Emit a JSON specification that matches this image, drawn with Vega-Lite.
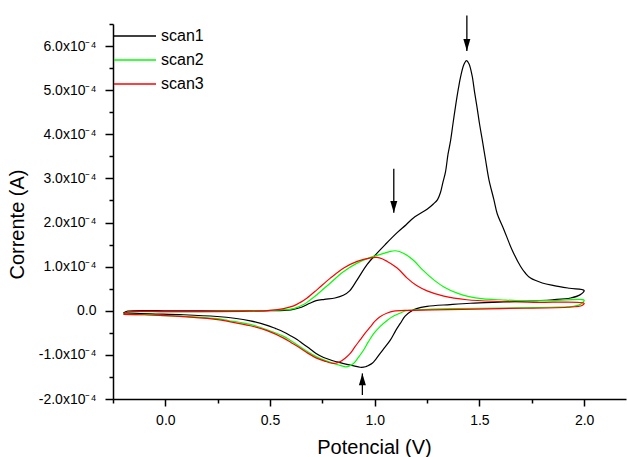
{
  "$schema": "https://vega.github.io/schema/vega-lite/v6.json",
  "autosize": "none",
  "width": 513,
  "height": 375,
  "padding": {"left": 113, "top": 24, "right": 1, "bottom": 58},
  "background": "white",
  "config": {"font": "Liberation Sans", "view": {"stroke": null}, "axis": {"grid": false}},
  "datasets": {
    "cv": [
      {"scan": "scan1", "potencial": -0.2, "corrente": -0.05e-4},
      {"scan": "scan1", "potencial": -0.18, "corrente": -0.01e-4},
      {"scan": "scan1", "potencial": 0.0, "corrente": 0.0},
      {"scan": "scan1", "potencial": 0.2, "corrente": 0.0},
      {"scan": "scan1", "potencial": 0.4, "corrente": 0.0},
      {"scan": "scan1", "potencial": 0.5, "corrente": 0.0},
      {"scan": "scan1", "potencial": 0.6, "corrente": 0.02e-4},
      {"scan": "scan1", "potencial": 0.65, "corrente": 0.08e-4},
      {"scan": "scan1", "potencial": 0.69, "corrente": 0.17e-4},
      {"scan": "scan1", "potencial": 0.72, "corrente": 0.23e-4},
      {"scan": "scan1", "potencial": 0.76, "corrente": 0.26e-4},
      {"scan": "scan1", "potencial": 0.81, "corrente": 0.29e-4},
      {"scan": "scan1", "potencial": 0.85, "corrente": 0.35e-4},
      {"scan": "scan1", "potencial": 0.88, "corrente": 0.45e-4},
      {"scan": "scan1", "potencial": 0.916, "corrente": 0.7e-4},
      {"scan": "scan1", "potencial": 0.964, "corrente": 1.05e-4},
      {"scan": "scan1", "potencial": 1.01, "corrente": 1.3e-4},
      {"scan": "scan1", "potencial": 1.05, "corrente": 1.5e-4},
      {"scan": "scan1", "potencial": 1.107, "corrente": 1.77e-4},
      {"scan": "scan1", "potencial": 1.15, "corrente": 1.95e-4},
      {"scan": "scan1", "potencial": 1.186, "corrente": 2.11e-4},
      {"scan": "scan1", "potencial": 1.25, "corrente": 2.3e-4},
      {"scan": "scan1", "potencial": 1.28, "corrente": 2.42e-4},
      {"scan": "scan1", "potencial": 1.3, "corrente": 2.52e-4},
      {"scan": "scan1", "potencial": 1.314, "corrente": 2.68e-4},
      {"scan": "scan1", "potencial": 1.325, "corrente": 2.9e-4},
      {"scan": "scan1", "potencial": 1.338, "corrente": 3.15e-4},
      {"scan": "scan1", "potencial": 1.35, "corrente": 3.55e-4},
      {"scan": "scan1", "potencial": 1.362, "corrente": 3.85e-4},
      {"scan": "scan1", "potencial": 1.374, "corrente": 4.25e-4},
      {"scan": "scan1", "potencial": 1.386, "corrente": 4.64e-4},
      {"scan": "scan1", "potencial": 1.4, "corrente": 5.05e-4},
      {"scan": "scan1", "potencial": 1.41, "corrente": 5.3e-4},
      {"scan": "scan1", "potencial": 1.425, "corrente": 5.57e-4},
      {"scan": "scan1", "potencial": 1.438, "corrente": 5.67e-4},
      {"scan": "scan1", "potencial": 1.45, "corrente": 5.6e-4},
      {"scan": "scan1", "potencial": 1.465, "corrente": 5.33e-4},
      {"scan": "scan1", "potencial": 1.477, "corrente": 4.95e-4},
      {"scan": "scan1", "potencial": 1.489, "corrente": 4.6e-4},
      {"scan": "scan1", "potencial": 1.5, "corrente": 4.25e-4},
      {"scan": "scan1", "potencial": 1.513, "corrente": 3.89e-4},
      {"scan": "scan1", "potencial": 1.53, "corrente": 3.4e-4},
      {"scan": "scan1", "potencial": 1.545, "corrente": 2.98e-4},
      {"scan": "scan1", "potencial": 1.569, "corrente": 2.52e-4},
      {"scan": "scan1", "potencial": 1.585, "corrente": 2.2e-4},
      {"scan": "scan1", "potencial": 1.616, "corrente": 1.85e-4},
      {"scan": "scan1", "potencial": 1.655, "corrente": 1.39e-4},
      {"scan": "scan1", "potencial": 1.696, "corrente": 1.01e-4},
      {"scan": "scan1", "potencial": 1.72, "corrente": 0.85e-4},
      {"scan": "scan1", "potencial": 1.744, "corrente": 0.74e-4},
      {"scan": "scan1", "potencial": 1.8, "corrente": 0.63e-4},
      {"scan": "scan1", "potencial": 1.856, "corrente": 0.57e-4},
      {"scan": "scan1", "potencial": 1.93, "corrente": 0.51e-4},
      {"scan": "scan1", "potencial": 2.0, "corrente": 0.46e-4},
      {"scan": "scan1", "potencial": 1.98, "corrente": 0.36e-4},
      {"scan": "scan1", "potencial": 1.935, "corrente": 0.29e-4},
      {"scan": "scan1", "potencial": 1.85, "corrente": 0.25e-4},
      {"scan": "scan1", "potencial": 1.776, "corrente": 0.23e-4},
      {"scan": "scan1", "potencial": 1.616, "corrente": 0.2e-4},
      {"scan": "scan1", "potencial": 1.457, "corrente": 0.17e-4},
      {"scan": "scan1", "potencial": 1.36, "corrente": 0.14e-4},
      {"scan": "scan1", "potencial": 1.25, "corrente": 0.1e-4},
      {"scan": "scan1", "potencial": 1.2, "corrente": 0.05e-4},
      {"scan": "scan1", "potencial": 1.17, "corrente": -0.02e-4},
      {"scan": "scan1", "potencial": 1.145, "corrente": -0.12e-4},
      {"scan": "scan1", "potencial": 1.123, "corrente": -0.28e-4},
      {"scan": "scan1", "potencial": 1.1, "corrente": -0.45e-4},
      {"scan": "scan1", "potencial": 1.075, "corrente": -0.66e-4},
      {"scan": "scan1", "potencial": 1.05, "corrente": -0.82e-4},
      {"scan": "scan1", "potencial": 1.027, "corrente": -0.96e-4},
      {"scan": "scan1", "potencial": 1.005, "corrente": -1.1e-4},
      {"scan": "scan1", "potencial": 0.988, "corrente": -1.19e-4},
      {"scan": "scan1", "potencial": 0.97, "corrente": -1.24e-4},
      {"scan": "scan1", "potencial": 0.956, "corrente": -1.27e-4},
      {"scan": "scan1", "potencial": 0.93, "corrente": -1.28e-4},
      {"scan": "scan1", "potencial": 0.9, "corrente": -1.25e-4},
      {"scan": "scan1", "potencial": 0.852, "corrente": -1.2e-4},
      {"scan": "scan1", "potencial": 0.82, "corrente": -1.16e-4},
      {"scan": "scan1", "potencial": 0.756, "corrente": -1.06e-4},
      {"scan": "scan1", "potencial": 0.72, "corrente": -0.97e-4},
      {"scan": "scan1", "potencial": 0.693, "corrente": -0.87e-4},
      {"scan": "scan1", "potencial": 0.66, "corrente": -0.76e-4},
      {"scan": "scan1", "potencial": 0.629, "corrente": -0.65e-4},
      {"scan": "scan1", "potencial": 0.6, "corrente": -0.57e-4},
      {"scan": "scan1", "potencial": 0.565, "corrente": -0.48e-4},
      {"scan": "scan1", "potencial": 0.525, "corrente": -0.4e-4},
      {"scan": "scan1", "potencial": 0.486, "corrente": -0.33e-4},
      {"scan": "scan1", "potencial": 0.406, "corrente": -0.23e-4},
      {"scan": "scan1", "potencial": 0.33, "corrente": -0.17e-4},
      {"scan": "scan1", "potencial": 0.247, "corrente": -0.13e-4},
      {"scan": "scan1", "potencial": 0.087, "corrente": -0.09e-4},
      {"scan": "scan1", "potencial": -0.07, "corrente": -0.07e-4},
      {"scan": "scan1", "potencial": -0.2, "corrente": -0.05e-4},

      {"scan": "scan2", "potencial": -0.2, "corrente": -0.07e-4},
      {"scan": "scan2", "potencial": -0.18, "corrente": -0.03e-4},
      {"scan": "scan2", "potencial": -0.1, "corrente": -0.02e-4},
      {"scan": "scan2", "potencial": 0.1, "corrente": -0.02e-4},
      {"scan": "scan2", "potencial": 0.3, "corrente": -0.01e-4},
      {"scan": "scan2", "potencial": 0.45, "corrente": 0.0},
      {"scan": "scan2", "potencial": 0.55, "corrente": 0.02e-4},
      {"scan": "scan2", "potencial": 0.613, "corrente": 0.05e-4},
      {"scan": "scan2", "potencial": 0.66, "corrente": 0.14e-4},
      {"scan": "scan2", "potencial": 0.69, "corrente": 0.24e-4},
      {"scan": "scan2", "potencial": 0.725, "corrente": 0.37e-4},
      {"scan": "scan2", "potencial": 0.788, "corrente": 0.63e-4},
      {"scan": "scan2", "potencial": 0.852, "corrente": 0.89e-4},
      {"scan": "scan2", "potencial": 0.916, "corrente": 1.08e-4},
      {"scan": "scan2", "potencial": 0.98, "corrente": 1.21e-4},
      {"scan": "scan2", "potencial": 1.043, "corrente": 1.3e-4},
      {"scan": "scan2", "potencial": 1.07, "corrente": 1.34e-4},
      {"scan": "scan2", "potencial": 1.099, "corrente": 1.36e-4},
      {"scan": "scan2", "potencial": 1.139, "corrente": 1.3e-4},
      {"scan": "scan2", "potencial": 1.186, "corrente": 1.14e-4},
      {"scan": "scan2", "potencial": 1.23, "corrente": 0.92e-4},
      {"scan": "scan2", "potencial": 1.282, "corrente": 0.7e-4},
      {"scan": "scan2", "potencial": 1.33, "corrente": 0.54e-4},
      {"scan": "scan2", "potencial": 1.394, "corrente": 0.4e-4},
      {"scan": "scan2", "potencial": 1.45, "corrente": 0.32e-4},
      {"scan": "scan2", "potencial": 1.52, "corrente": 0.27e-4},
      {"scan": "scan2", "potencial": 1.6, "corrente": 0.25e-4},
      {"scan": "scan2", "potencial": 1.68, "corrente": 0.23e-4},
      {"scan": "scan2", "potencial": 1.85, "corrente": 0.23e-4},
      {"scan": "scan2", "potencial": 2.0, "corrente": 0.24e-4},
      {"scan": "scan2", "potencial": 1.99, "corrente": 0.17e-4},
      {"scan": "scan2", "potencial": 1.95, "corrente": 0.1e-4},
      {"scan": "scan2", "potencial": 1.84, "corrente": 0.08e-4},
      {"scan": "scan2", "potencial": 1.6, "corrente": 0.06e-4},
      {"scan": "scan2", "potencial": 1.36, "corrente": 0.05e-4},
      {"scan": "scan2", "potencial": 1.2, "corrente": 0.02e-4},
      {"scan": "scan2", "potencial": 1.15, "corrente": 0.0},
      {"scan": "scan2", "potencial": 1.123, "corrente": -0.05e-4},
      {"scan": "scan2", "potencial": 1.09, "corrente": -0.12e-4},
      {"scan": "scan2", "potencial": 1.059, "corrente": -0.22e-4},
      {"scan": "scan2", "potencial": 1.025, "corrente": -0.36e-4},
      {"scan": "scan2", "potencial": 0.995, "corrente": -0.52e-4},
      {"scan": "scan2", "potencial": 0.97, "corrente": -0.7e-4},
      {"scan": "scan2", "potencial": 0.947, "corrente": -0.89e-4},
      {"scan": "scan2", "potencial": 0.92, "corrente": -1.07e-4},
      {"scan": "scan2", "potencial": 0.9, "corrente": -1.19e-4},
      {"scan": "scan2", "potencial": 0.88, "corrente": -1.25e-4},
      {"scan": "scan2", "potencial": 0.86, "corrente": -1.27e-4},
      {"scan": "scan2", "potencial": 0.828, "corrente": -1.23e-4},
      {"scan": "scan2", "potencial": 0.788, "corrente": -1.17e-4},
      {"scan": "scan2", "potencial": 0.725, "corrente": -1.05e-4},
      {"scan": "scan2", "potencial": 0.68, "corrente": -0.93e-4},
      {"scan": "scan2", "potencial": 0.645, "corrente": -0.82e-4},
      {"scan": "scan2", "potencial": 0.6, "corrente": -0.68e-4},
      {"scan": "scan2", "potencial": 0.565, "corrente": -0.58e-4},
      {"scan": "scan2", "potencial": 0.486, "corrente": -0.43e-4},
      {"scan": "scan2", "potencial": 0.406, "corrente": -0.31e-4},
      {"scan": "scan2", "potencial": 0.3, "corrente": -0.22e-4},
      {"scan": "scan2", "potencial": 0.25, "corrente": -0.18e-4},
      {"scan": "scan2", "potencial": 0.1, "corrente": -0.13e-4},
      {"scan": "scan2", "potencial": 0.0, "corrente": -0.11e-4},
      {"scan": "scan2", "potencial": -0.1, "corrente": -0.09e-4},
      {"scan": "scan2", "potencial": -0.2, "corrente": -0.08e-4},

      {"scan": "scan3", "potencial": -0.2, "corrente": -0.08e-4},
      {"scan": "scan3", "potencial": -0.18, "corrente": -0.03e-4},
      {"scan": "scan3", "potencial": 0.0, "corrente": -0.02e-4},
      {"scan": "scan3", "potencial": 0.2, "corrente": -0.02e-4},
      {"scan": "scan3", "potencial": 0.4, "corrente": -0.01e-4},
      {"scan": "scan3", "potencial": 0.5, "corrente": 0.01e-4},
      {"scan": "scan3", "potencial": 0.565, "corrente": 0.05e-4},
      {"scan": "scan3", "potencial": 0.613, "corrente": 0.11e-4},
      {"scan": "scan3", "potencial": 0.645, "corrente": 0.19e-4},
      {"scan": "scan3", "potencial": 0.677, "corrente": 0.29e-4},
      {"scan": "scan3", "potencial": 0.725, "corrente": 0.48e-4},
      {"scan": "scan3", "potencial": 0.788, "corrente": 0.74e-4},
      {"scan": "scan3", "potencial": 0.852, "corrente": 0.97e-4},
      {"scan": "scan3", "potencial": 0.916, "corrente": 1.12e-4},
      {"scan": "scan3", "potencial": 0.98, "corrente": 1.2e-4},
      {"scan": "scan3", "potencial": 1.011, "corrente": 1.21e-4},
      {"scan": "scan3", "potencial": 1.035, "corrente": 1.18e-4},
      {"scan": "scan3", "potencial": 1.059, "corrente": 1.12e-4},
      {"scan": "scan3", "potencial": 1.107, "corrente": 0.97e-4},
      {"scan": "scan3", "potencial": 1.155, "corrente": 0.74e-4},
      {"scan": "scan3", "potencial": 1.2, "corrente": 0.57e-4},
      {"scan": "scan3", "potencial": 1.25, "corrente": 0.45e-4},
      {"scan": "scan3", "potencial": 1.33, "corrente": 0.33e-4},
      {"scan": "scan3", "potencial": 1.44, "corrente": 0.25e-4},
      {"scan": "scan3", "potencial": 1.6, "corrente": 0.21e-4},
      {"scan": "scan3", "potencial": 1.76, "corrente": 0.19e-4},
      {"scan": "scan3", "potencial": 2.0, "corrente": 0.17e-4},
      {"scan": "scan3", "potencial": 1.99, "corrente": 0.12e-4},
      {"scan": "scan3", "potencial": 1.92, "corrente": 0.08e-4},
      {"scan": "scan3", "potencial": 1.6, "corrente": 0.05e-4},
      {"scan": "scan3", "potencial": 1.28, "corrente": 0.02e-4},
      {"scan": "scan3", "potencial": 1.155, "corrente": 0.01e-4},
      {"scan": "scan3", "potencial": 1.091, "corrente": -0.01e-4},
      {"scan": "scan3", "potencial": 1.06, "corrente": -0.05e-4},
      {"scan": "scan3", "potencial": 1.027, "corrente": -0.13e-4},
      {"scan": "scan3", "potencial": 1.0, "corrente": -0.24e-4},
      {"scan": "scan3", "potencial": 0.98, "corrente": -0.36e-4},
      {"scan": "scan3", "potencial": 0.955, "corrente": -0.5e-4},
      {"scan": "scan3", "potencial": 0.93, "corrente": -0.66e-4},
      {"scan": "scan3", "potencial": 0.905, "corrente": -0.82e-4},
      {"scan": "scan3", "potencial": 0.884, "corrente": -0.96e-4},
      {"scan": "scan3", "potencial": 0.86, "corrente": -1.07e-4},
      {"scan": "scan3", "potencial": 0.836, "corrente": -1.15e-4},
      {"scan": "scan3", "potencial": 0.812, "corrente": -1.19e-4},
      {"scan": "scan3", "potencial": 0.796, "corrente": -1.19e-4},
      {"scan": "scan3", "potencial": 0.76, "corrente": -1.14e-4},
      {"scan": "scan3", "potencial": 0.725, "corrente": -1.08e-4},
      {"scan": "scan3", "potencial": 0.68, "corrente": -0.96e-4},
      {"scan": "scan3", "potencial": 0.645, "corrente": -0.85e-4},
      {"scan": "scan3", "potencial": 0.6, "corrente": -0.72e-4},
      {"scan": "scan3", "potencial": 0.565, "corrente": -0.62e-4},
      {"scan": "scan3", "potencial": 0.486, "corrente": -0.45e-4},
      {"scan": "scan3", "potencial": 0.406, "corrente": -0.34e-4},
      {"scan": "scan3", "potencial": 0.3, "corrente": -0.24e-4},
      {"scan": "scan3", "potencial": 0.25, "corrente": -0.2e-4},
      {"scan": "scan3", "potencial": 0.1, "corrente": -0.14e-4},
      {"scan": "scan3", "potencial": 0.0, "corrente": -0.11e-4},
      {"scan": "scan3", "potencial": -0.1, "corrente": -0.09e-4},
      {"scan": "scan3", "potencial": -0.2, "corrente": -0.08e-4}
    ],
    "arrows": [
      {"potencial": 1.44, "corrente": 6.69e-4, "corrente2": 5.89e-4, "dir": "down"},
      {"potencial": 1.091, "corrente": 3.22e-4, "corrente2": 2.22e-4, "dir": "down"},
      {"potencial": 0.941, "corrente": -1.91e-4, "corrente2": -1.42e-4, "dir": "up"}
    ]
  },
  "resolve": {"axis": {"x": "independent", "y": "independent"}},
  "layer": [
    {
      "data": {"name": "cv"},
      "mark": {"type": "line", "strokeWidth": 1.2, "interpolate": "catmull-rom"},
      "encoding": {
        "x": {
          "field": "potencial", "type": "quantitative",
          "scale": {"domain": [-0.25, 2.2], "nice": false, "zero": false},
          "axis": {
            "orient": "bottom", "values": [0, 0.5, 1, 1.5, 2], "format": ".1f",
            "tickSize": 7, "tickWidth": 1.5, "tickColor": "black",
            "domainColor": "black", "domainWidth": 1.5,
            "labelFont": "Liberation Sans", "labelFontSize": 14, "labelColor": "black", "labelPadding": 7,
            "labelFlush": false, "labelOverlap": false,
            "title": "Potencial (V)", "titleFont": "Liberation Sans", "titleFontSize": 20,
            "titleFontWeight": "normal", "titleColor": "black",
            "titleX": 261, "titleY": 54, "titleAlign": "center", "titleBaseline": "alphabetic"
          }
        },
        "y": {
          "field": "corrente", "type": "quantitative",
          "scale": {"domain": [-2e-4, 6.5e-4], "nice": false, "zero": false},
          "axis": {
            "orient": "left",
            "values": [-2e-4, -1e-4, 0, 1e-4, 2e-4, 3e-4, 4e-4, 5e-4, 6e-4],
            "labelExpr": "abs(datum.value) < 1e-9 ? '0.0' : (datum.value < 0 ? '-' : '') + format(abs(datum.value) * 1e4, '.1f') + 'x10⁻⁴'",
            "tickSize": 8, "tickWidth": 1.5, "tickColor": "black",
            "domainColor": "black", "domainWidth": 1.5,
            "labelFont": "Liberation Sans", "labelFontSize": 14, "labelColor": "black", "labelPadding": 9,
            "labelFlush": false, "labelOverlap": false,
            "title": "Corrente (A)", "titleFont": "Liberation Sans", "titleFontSize": 20,
            "titleFontWeight": "normal", "titleColor": "black", "titleAngle": 270,
            "titleX": -89.7, "titleY": 200, "titleAlign": "center", "titleBaseline": "alphabetic"
          }
        },
        "color": {
          "field": "scan", "type": "nominal",
          "scale": {"domain": ["scan1", "scan2", "scan3"], "range": ["#000000", "#00ff00", "#ff0000"]},
          "legend": {
            "orient": "none", "legendX": 0, "legendY": 4, "title": null,
            "symbolType": "M-3,0H3", "symbolSize": 196, "symbolStrokeWidth": 1.3,
            "symbolOffset": 14, "labelOffset": 18,
            "labelFont": "Liberation Sans", "labelFontSize": 16, "labelColor": "black",
            "rowPadding": 8, "padding": 0
          }
        },
        "order": {"value": null}
      }
    },
    {
      "data": {"name": "arrows"},
      "mark": {"type": "rule", "color": "black", "strokeWidth": 1.3},
      "encoding": {
        "x": {
          "field": "potencial", "type": "quantitative",
          "scale": {"domain": [-0.25, 2.2], "nice": false, "zero": false},
          "axis": {
            "orient": "bottom", "values": [-0.25, 0.25, 0.75, 1.25, 1.75],
            "labels": false, "title": null, "domain": false,
            "tickSize": 4, "tickWidth": 1.5, "tickColor": "black"
          }
        },
        "y": {
          "field": "corrente", "type": "quantitative",
          "scale": {"domain": [-2e-4, 6.5e-4], "nice": false, "zero": false},
          "axis": {
            "orient": "left",
            "values": [-1.5e-4, -0.5e-4, 0.5e-4, 1.5e-4, 2.5e-4, 3.5e-4, 4.5e-4, 5.5e-4, 6.5e-4],
            "labels": false, "title": null, "domain": false,
            "tickSize": 4, "tickWidth": 1.5, "tickColor": "black"
          }
        },
        "y2": {"field": "corrente2"}
      }
    },
    {
      "data": {"name": "arrows"},
      "mark": {"type": "point", "filled": true, "color": "black", "opacity": 1, "size": 196, "strokeWidth": 0},
      "encoding": {
        "x": {
          "field": "potencial", "type": "quantitative",
          "scale": {"domain": [-0.25, 2.2], "nice": false, "zero": false}, "axis": null
        },
        "y": {
          "field": "corrente2", "type": "quantitative",
          "scale": {"domain": [-2e-4, 6.5e-4], "nice": false, "zero": false}, "axis": null
        },
        "shape": {
          "field": "dir", "type": "nominal",
          "scale": {"domain": ["down", "up"], "range": ["M-0.5,-1.7L0.5,-1.7L0,0Z", "M-0.5,1.7L0.5,1.7L0,0Z"]},
          "legend": null
        }
      }
    }
  ]
}
